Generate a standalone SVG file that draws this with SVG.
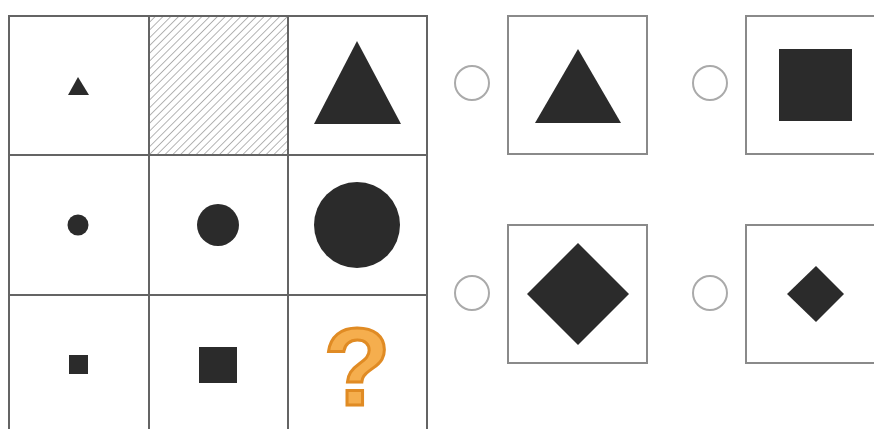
<svg xmlns="http://www.w3.org/2000/svg" width="874" height="429" viewBox="0 0 874 429">
<defs>
<pattern id="hatch" patternUnits="userSpaceOnUse" width="5.5" height="5.5" patternTransform="rotate(45)">
<line x1="0" y1="0" x2="0" y2="5.5" stroke="#8c8c8c" stroke-width="1.3"/>
</pattern>
</defs>
<style>
.grid{stroke:#646464;stroke-width:2;fill:none}
.box{stroke:#8a8a8a;stroke-width:2;fill:#fff}
.radio{stroke:#aaa;stroke-width:2;fill:#fff}
.shape{fill:#2b2b2b}
</style>
<rect width="874" height="429" fill="#fff"/>
<g id="matrix">
<rect x="149" y="16" width="139" height="139" fill="url(#hatch)"/>
<g class="grid">
<line x1="8" y1="16" x2="428" y2="16"/>
<line x1="8" y1="155" x2="428" y2="155"/>
<line x1="8" y1="295" x2="428" y2="295"/>
<line x1="9" y1="15" x2="9" y2="429"/>
<line x1="149" y1="15" x2="149" y2="429"/>
<line x1="288" y1="15" x2="288" y2="429"/>
<line x1="427" y1="15" x2="427" y2="429"/>
</g>
</g>
<g id="cell-r1c1"><polygon class="shape" points="78,77 89,95 68,95"/></g>
<g id="cell-r1c3"><polygon class="shape" points="357,41 401,124 314,124"/></g>
<g id="cell-r2c1"><circle class="shape" cx="78" cy="225" r="10.5"/></g>
<g id="cell-r2c2"><circle class="shape" cx="218" cy="225" r="21"/></g>
<g id="cell-r2c3"><circle class="shape" cx="357" cy="225" r="43"/></g>
<g id="cell-r3c1"><rect class="shape" x="69" y="355" width="19" height="19"/></g>
<g id="cell-r3c2"><rect class="shape" x="199" y="347" width="38" height="36"/></g>
<g id="cell-r3c3"><text x="357" y="405" text-anchor="middle" font-family="Liberation Sans, Arial, sans-serif" font-weight="bold" font-size="110" fill="#F5AE4E" stroke="#E08B24" stroke-width="3">?</text></g>
<g id="option-a">
<circle class="radio" cx="472" cy="83" r="17"/>
<rect class="box" x="508" y="16" width="139" height="138"/>
<polygon class="shape" points="578,49 621,123 535,123"/>
</g>
<g id="option-b">
<circle class="radio" cx="710" cy="83" r="17"/>
<rect class="box" x="746" y="16" width="140" height="138"/>
<rect class="shape" x="779" y="49" width="73" height="72"/>
</g>
<g id="option-c">
<circle class="radio" cx="472" cy="293" r="17"/>
<rect class="box" x="508" y="225" width="139" height="138"/>
<polygon class="shape" points="578,243 629,294 578,345 527,294"/>
</g>
<g id="option-d">
<circle class="radio" cx="710" cy="293" r="17"/>
<rect class="box" x="746" y="225" width="140" height="138"/>
<polygon class="shape" points="816,266 844,294 816,322 787,294"/>
</g>
<g id="connectors"></g>
</svg>
